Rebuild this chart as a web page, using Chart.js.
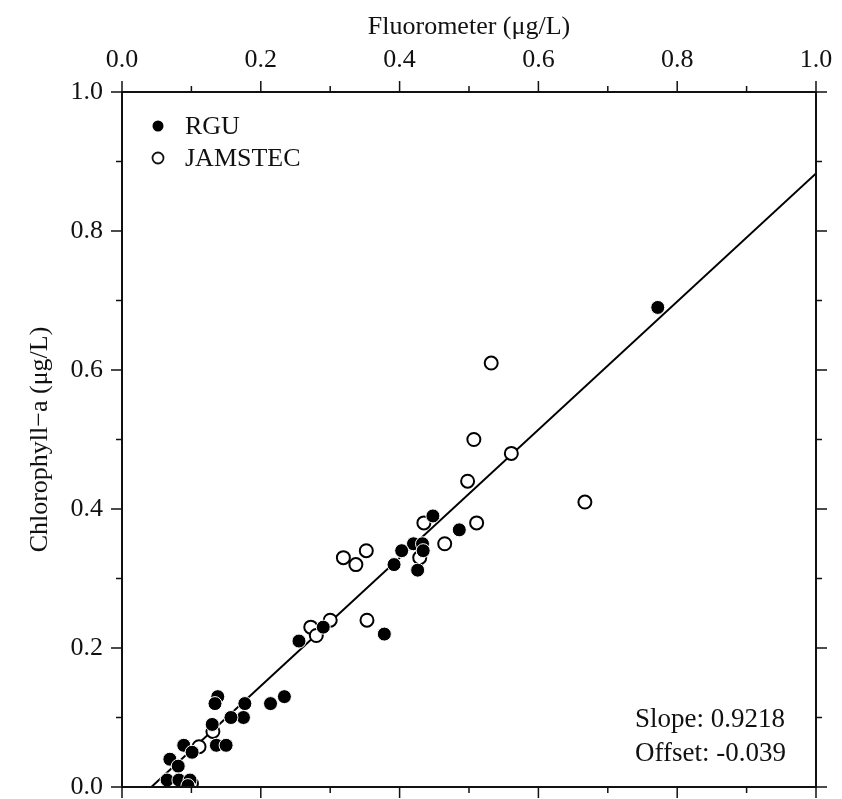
<!DOCTYPE html>
<html>
<head>
<meta charset="utf-8">
<script src="https://cdn.jsdelivr.net/npm/chart.js@4.4.1/dist/chart.umd.min.js"></script>
<style>
  html, body { margin: 0; padding: 0; background: #fff; }
  canvas { display: block; }
</style>
</head>
<body>
<canvas id="chart" width="842" height="799"></canvas>
<script>
// Dados (Fluorometer x Chlorophyll-a)
const rguX = [0.772, 0.448, 0.486, 0.420, 0.433, 0.434, 0.403, 0.392, 0.426, 0.378,
              0.290, 0.255, 0.234, 0.214, 0.177, 0.175, 0.157, 0.138, 0.134, 0.130,
              0.136, 0.150, 0.089, 0.101, 0.069, 0.081, 0.065, 0.082, 0.098, 0.095];
const rguY = [0.690, 0.390, 0.370, 0.350, 0.350, 0.340, 0.340, 0.320, 0.312, 0.220,
              0.230, 0.210, 0.130, 0.120, 0.120, 0.100, 0.100, 0.130, 0.120, 0.090,
              0.060, 0.060, 0.060, 0.050, 0.040, 0.030, 0.010, 0.010, 0.010, 0.002];

const jamstecX = [0.532, 0.507, 0.561, 0.498, 0.667, 0.435, 0.511, 0.465, 0.429, 0.319,
                  0.337, 0.352, 0.300, 0.353, 0.272, 0.280, 0.131, 0.111, 0.100, 0.078];
const jamstecY = [0.610, 0.500, 0.480, 0.440, 0.410, 0.380, 0.380, 0.350, 0.330, 0.330,
                  0.320, 0.340, 0.240, 0.240, 0.230, 0.218, 0.080, 0.058, 0.005, 0.000];

// Reta de ajuste
const slope = 0.9218;
const offset = -0.039;

// Ticks
const tickValues = [0, 0.2, 0.4, 0.6, 0.8, 1.0];
const tickLabels = ['0.0', '0.2', '0.4', '0.6', '0.8', '1.0'];
const minorTicks = [0.1, 0.3, 0.5, 0.7, 0.9];

const FONT = "'Liberation Serif', 'Times New Roman', serif";
const INK = '#111';

const toPoints = (xs, ys) => xs.map((x, i) => ({ x: x, y: ys[i] }));

// Reta: de y = 0 até x = 1
const fitLine = [
    { x: -offset / slope, y: 0 },
    { x: 1.0, y: slope * 1.0 + offset }
];

const useTicks = scale => { scale.ticks = tickValues.map(v => ({ value: v })); };

// Tamanho fixo dos eixos, sem o padding extra dos rótulos
const fixSize = (w, h) => s => {
    if (w !== null) s.width = w;
    if (h !== null) s.height = h;
    s.paddingLeft = 0; s.paddingRight = 0;
    s.paddingTop = 0; s.paddingBottom = 0;
};

// Moldura, ticks para fora, legenda e texto do ajuste
const framePlugin = {
    id: 'frame',
    afterDatasetsDraw(chart) {
        const { ctx, chartArea: a, scales } = chart;
        ctx.save();
        ctx.strokeStyle = INK;
        ctx.lineWidth = 2;
        ctx.strokeRect(a.left, a.top, a.right - a.left, a.bottom - a.top);

        ctx.lineWidth = 1.5;
        const tick = (v, len) => {
            const px = scales.x.getPixelForValue(v);
            const py = scales.y.getPixelForValue(v);
            ctx.beginPath();
            ctx.moveTo(px, a.top); ctx.lineTo(px, a.top - len);
            ctx.moveTo(px, a.bottom); ctx.lineTo(px, a.bottom + len);
            ctx.moveTo(a.left, py); ctx.lineTo(a.left - len, py);
            ctx.moveTo(a.right, py); ctx.lineTo(a.right + len, py);
            ctx.stroke();
        };
        tickValues.forEach(v => tick(v, 11));
        minorTicks.forEach(v => tick(v, 6));

        // legenda
        ctx.font = `26px ${FONT}`;
        ctx.textBaseline = 'middle';
        const sets = chart.data.datasets.slice(0, 2);
        sets.forEach((ds, i) => {
            const cx = a.left + 36;
            const cy = a.top + 34 + i * 32;
            ctx.beginPath();
            ctx.arc(cx, cy, 5.5, 0, Math.PI * 2);
            if (i === 0) {
                ctx.fillStyle = '#000';
                ctx.fill();
            } else {
                ctx.fillStyle = '#fff';
                ctx.fill();
                ctx.lineWidth = 1.8;
                ctx.stroke();
            }
            ctx.fillStyle = INK;
            ctx.fillText(ds.label, a.left + 63, cy + 1);
        });

        // texto do ajuste
        ctx.textBaseline = 'alphabetic';
        ctx.textAlign = 'left';
        ctx.font = `27px ${FONT}`;
        ctx.fillText(`Slope: ${slope}`, a.left + 513, a.bottom - 60);
        ctx.fillText(`Offset: ${offset}`, a.left + 513, a.bottom - 26);
        ctx.restore();
    }
};

new Chart(document.getElementById('chart').getContext('2d'), {
    type: 'scatter',
    data: {
        datasets: [
            {
                label: 'RGU',
                data: toPoints(rguX, rguY),
                backgroundColor: '#000',
                borderColor: '#fff',
                borderWidth: 1,
                pointRadius: 7,
                pointHoverRadius: 7
            },
            {
                label: 'JAMSTEC',
                data: toPoints(jamstecX, jamstecY),
                backgroundColor: '#fff',
                borderColor: '#000',
                borderWidth: 2,
                pointRadius: 6.5,
                pointHoverRadius: 6.5
            },
            {
                type: 'line',
                label: 'fit',
                data: fitLine,
                borderColor: '#000',
                borderWidth: 2,
                pointRadius: 0,
                fill: false
            }
        ]
    },
    options: {
        responsive: false,
        animation: false,
        events: [],
        layout: { padding: 0 },
        plugins: {
            legend: { display: false },
            tooltip: { enabled: false }
        },
        scales: {
            x: {
                type: 'linear',
                position: 'top',
                min: 0, max: 1,
                afterBuildTicks: useTicks,
                afterFit: fixSize(null, 92),
                grid: { display: false, drawTicks: false },
                border: { display: false },
                ticks: {
                    padding: 16,
                    color: INK,
                    font: { family: FONT, size: 26 },
                    maxRotation: 0,
                    callback: (v, i) => tickLabels[i]
                },
                title: {
                    display: true,
                    text: 'Fluorometer (μg/L)',
                    color: INK,
                    font: { family: FONT, size: 26 },
                    padding: { top: 12, bottom: 0 }
                }
            },
            x2: {
                type: 'linear',
                position: 'bottom',
                min: 0, max: 1,
                afterFit: fixSize(null, 12),
                grid: { display: false, drawTicks: false },
                border: { display: false },
                ticks: { display: false }
            },
            y: {
                type: 'linear',
                position: 'left',
                min: 0, max: 1,
                afterBuildTicks: useTicks,
                afterFit: fixSize(122, null),
                grid: { display: false, drawTicks: false },
                border: { display: false },
                ticks: {
                    padding: 19,
                    color: INK,
                    font: { family: FONT, size: 26 },
                    callback: (v, i) => tickLabels[i]
                },
                title: {
                    display: true,
                    text: 'Chlorophyll−a (μg/L)',
                    color: INK,
                    font: { family: FONT, size: 26 },
                    padding: { top: 25, bottom: 0 }
                }
            },
            y2: {
                type: 'linear',
                position: 'right',
                min: 0, max: 1,
                afterFit: fixSize(26, null),
                grid: { display: false, drawTicks: false },
                border: { display: false },
                ticks: { display: false }
            }
        }
    },
    plugins: [framePlugin]
});
</script>
</body>
</html>
